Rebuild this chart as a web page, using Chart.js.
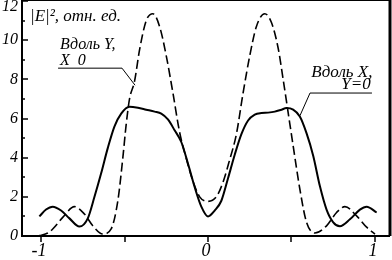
<!DOCTYPE html>
<html lang="ru">
<head>
    <meta charset="UTF-8">
    <title>|E|^2 profile</title>
    <script src="https://cdn.jsdelivr.net/npm/chart.js"></script>
    <style>
        body { margin: 0; background: #fff; }
        #wrap { width: 392px; height: 260px; position: relative; }
    </style>
</head>
<body>
<div id="wrap"><canvas id="chart"></canvas></div>
<script>
// Вдоль X, Y=0 (solid)
const solidX = [-1.01, -0.97, -0.93, -0.88, -0.83, -0.77, -0.72, -0.68, -0.64, -0.60, -0.56, -0.52, -0.47, -0.42, -0.37, -0.32, -0.28, -0.24, -0.20, -0.16, -0.12, -0.08, -0.04, 0,
                0.04, 0.08, 0.12, 0.16, 0.20, 0.24, 0.28, 0.32, 0.36, 0.40, 0.44, 0.47, 0.51, 0.55, 0.59, 0.63, 0.67, 0.71, 0.75, 0.79, 0.85, 0.91, 0.95, 1.01];
const solidY = [1.0, 1.35, 1.5, 1.3, 0.9, 0.48, 0.9, 2.0, 3.2, 4.5, 5.6, 6.25, 6.6, 6.55, 6.45, 6.35, 6.25, 5.95, 5.4, 4.8, 3.7, 2.5, 1.5, 1.0,
                1.3, 1.8, 2.95, 4.15, 5.2, 5.9, 6.2, 6.28, 6.3, 6.35, 6.45, 6.53, 6.45, 6.1, 5.25, 4.1, 2.55, 1.35, 0.7, 0.5, 0.85, 1.35, 1.5, 1.2];

// Вдоль Y, X=0 (dashed)
const dashedX = [-1.01, -0.96, -0.93, -0.87, -0.80, -0.74, -0.69, -0.63, -0.58, -0.54, -0.51, -0.49, -0.47, -0.44, -0.41, -0.37, -0.33, -0.29, -0.25, -0.21, -0.17, -0.13, -0.09, -0.05, 0,
                 0.05, 0.09, 0.13, 0.17, 0.21, 0.25, 0.29, 0.34, 0.38, 0.42, 0.45, 0.48, 0.51, 0.55, 0.59, 0.64, 0.71, 0.77, 0.82, 0.89, 0.95, 1.0];
const dashedY = [0.02, 0.15, 0.36, 0.95, 1.5, 1.12, 0.52, 0.1, 0.36, 1.8, 4.0, 5.7, 7.0, 7.9, 9.5, 11.0, 11.35, 10.7, 9.2, 7.3, 5.3, 3.95, 2.8, 2.0, 1.77,
                 2.0, 2.75, 3.9, 5.2, 7.3, 9.2, 10.7, 11.35, 10.9, 9.6, 8.0, 6.3, 4.6, 2.4, 0.7, 0.15, 0.52, 1.2, 1.5, 1.03, 0.45, 0.1];

// axes
const xTicks = [-1, -0.5, 0, 0.5, 1];
const xTickLabels = ['-1', '', '0', '', '1'];
const yTicks = [0, 2, 4, 6, 8, 10, 12];
const yMinorTicks = [1, 3, 5, 7, 9, 11];

// annotation text and leader lines (data coords)
const titleText = '|E|², отн. ед.';
const leftLabel = ['Вдоль Y,', 'X  0'];
const rightLabel = ['Вдоль X,', 'Y=0'];
const leftLeader = [[-0.898, 8.57], [-0.515, 8.57], [-0.437, 7.7]];
const rightLeader = [[0.982, 7.3], [0.611, 7.3], [0.551, 6.15]];

const serif = '"Liberation Serif", "DejaVu Serif", serif';

const toPts = (xs, ys) => xs.map((x, i) => ({ x, y: ys[i] }));

// frame, inward y ticks, outward x ticks, labels and annotations
const decorPlugin = {
    id: 'decor',
    afterDraw(chart) {
        const { ctx, chartArea: a, scales: { x, y } } = chart;
        ctx.save();
        ctx.strokeStyle = '#000';
        ctx.fillStyle = '#000';

        // frame
        ctx.lineWidth = 2;
        ctx.beginPath();
        ctx.moveTo(a.left, 0);
        ctx.lineTo(a.left, a.bottom);
        ctx.lineTo(a.right, a.bottom);
        ctx.stroke();
        ctx.lineWidth = 3;
        ctx.beginPath();
        ctx.moveTo(a.right, 0);
        ctx.lineTo(a.right, a.bottom);
        ctx.stroke();
        ctx.lineWidth = 1;
        ctx.beginPath();
        ctx.moveTo(a.left, 0.5);
        ctx.lineTo(a.right, 0.5);
        ctx.stroke();

        // y ticks (inside)
        ctx.lineWidth = 1.5;
        yTicks.forEach(v => {
            const py = Math.round(y.getPixelForValue(v));
            ctx.beginPath(); ctx.moveTo(a.left, py); ctx.lineTo(a.left + 6, py); ctx.stroke();
        });
        yMinorTicks.forEach(v => {
            const py = Math.round(y.getPixelForValue(v));
            ctx.beginPath(); ctx.moveTo(a.left, py); ctx.lineTo(a.left + 3, py); ctx.stroke();
        });
        // x ticks (outside)
        xTicks.forEach(v => {
            const px = Math.round(x.getPixelForValue(v));
            ctx.beginPath(); ctx.moveTo(px, a.bottom); ctx.lineTo(px, a.bottom + 6); ctx.stroke();
        });

        // tick labels
        ctx.font = 'italic 16px ' + serif;
        ctx.textAlign = 'right';
        ctx.textBaseline = 'middle';
        yTicks.forEach(v => {
            const py = Math.max(7, y.getPixelForValue(v));
            ctx.fillText(String(v), a.left - 4, py);
        });
        ctx.font = 'italic 18px ' + serif;
        ctx.textAlign = 'center';
        ctx.textBaseline = 'top';
        xTicks.forEach((v, i) => {
            if (!xTickLabels[i]) return;
            ctx.fillText(xTickLabels[i], x.getPixelForValue(v) - 2, a.bottom + 6);
        });

        // annotations
        ctx.textBaseline = 'alphabetic';
        ctx.textAlign = 'left';
        ctx.font = 'italic 17px ' + serif;
        ctx.fillText(titleText, x.getPixelForValue(-1.066), y.getPixelForValue(11.0));
        ctx.font = 'italic 16px ' + serif;
        ctx.fillText(leftLabel[0], x.getPixelForValue(-0.886), y.getPixelForValue(9.54));
        ctx.fillText(leftLabel[1], x.getPixelForValue(-0.886), y.getPixelForValue(8.72));
        ctx.textAlign = 'right';
        ctx.font = 'italic 17px ' + serif;
        ctx.fillText(rightLabel[0], x.getPixelForValue(0.985), y.getPixelForValue(8.11));
        ctx.fillText(rightLabel[1], x.getPixelForValue(0.975), y.getPixelForValue(7.5));

        ctx.lineWidth = 1;
        [leftLeader, rightLeader].forEach(line => {
            ctx.beginPath();
            line.forEach(([lx, ly], i) => {
                const px = x.getPixelForValue(lx), py = y.getPixelForValue(ly);
                if (i === 0) ctx.moveTo(px, py); else ctx.lineTo(px, py);
            });
            ctx.stroke();
        });
        ctx.restore();
    }
};

new Chart(document.getElementById('chart'), {
    type: 'line',
    data: {
        datasets: [
            { label: 'Вдоль X, Y=0', data: toPts(solidX, solidY), borderColor: '#000', borderWidth: 2,
              pointRadius: 0, cubicInterpolationMode: 'monotone', fill: false },
            { label: 'Вдоль Y, X=0', data: toPts(dashedX, dashedY), borderColor: '#000', borderWidth: 1.6,
              borderDash: [9, 4], pointRadius: 0, cubicInterpolationMode: 'monotone', fill: false }
        ]
    },
    options: {
        responsive: true,
        maintainAspectRatio: false,
        animation: false,
        layout: { padding: { top: 1, right: 2, left: 0, bottom: 0 } },
        plugins: { legend: { display: false }, tooltip: { enabled: false } },
        scales: {
            x: {
                type: 'linear', min: -1.114, max: 1.09,
                grid: { display: false }, border: { display: false },
                ticks: { display: false },
                afterFit: s => { s.height = 24; }
            },
            y: {
                min: 0, max: 12,
                grid: { display: false }, border: { display: false },
                ticks: { display: false },
                afterFit: s => { s.width = 22; }
            }
        }
    },
    plugins: [decorPlugin]
});
</script>
</body>
</html>
